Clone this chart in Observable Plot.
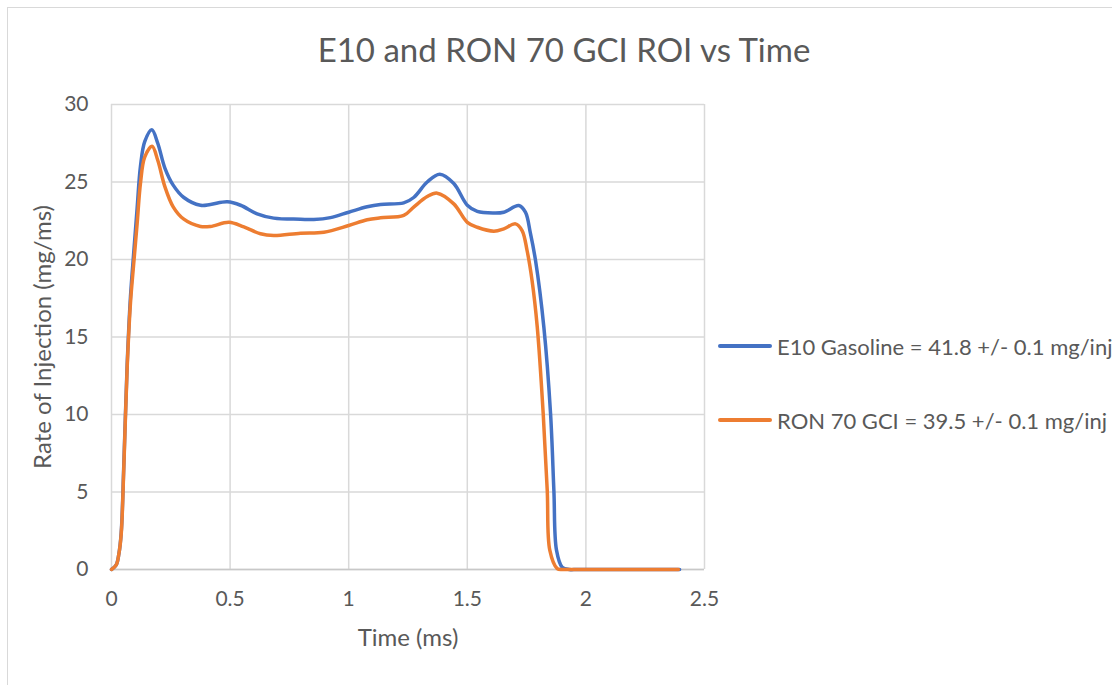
<!DOCTYPE html>
<html>
<head>
<meta charset="utf-8">
<script src="https://cdn.jsdelivr.net/npm/d3@7"></script>
<script src="https://cdn.jsdelivr.net/npm/@observablehq/plot@0.6"></script>
<style>
  body { margin: 0; background: #fff; font-family: Lato, sans-serif; }
  #chart { position: relative; width: 1112px; height: 685px; overflow: hidden; background: #fff; }
  #border { position: absolute; left: 7px; top: 7px; width: 1200px; height: 800px; border: 1px solid #d9d9d9; box-sizing: border-box; }
  #title { position: absolute; left: 0; width: 1128px; top: 33px; text-align: center; font-size: 33px; line-height: 33px; color: #595959; white-space: nowrap; }
  .leg { position: absolute; left: 718px; height: 30px; display: flex; align-items: center; font-size: 22px; color: #595959; white-space: nowrap; }
  .leg .sw { display: inline-block; width: 54px; height: 4px; border-radius: 2px; margin-right: 5px; }
  #plot { position: absolute; left: 0; top: 0; }
</style>
</head>
<body>
<div id="chart">
  <div id="border"></div>
  <div id="plot"></div>
  <div id="title"></div>
</div>
<script>
// ---- data ----
const chartTitle = "E10 and RON 70 GCI ROI vs Time";
const xLabel = "Time (ms)";
const yLabel = "Rate of Injection (mg/ms)";
const xTicks = [0, 0.5, 1, 1.5, 2, 2.5];
const xTickLabels = ["0", "0.5", "1", "1.5", "2", "2.5"];
const yTicks = [0, 5, 10, 15, 20, 25, 30];
const yTickLabels = ["0", "5", "10", "15", "20", "25", "30"];
const seriesNames = ["E10 Gasoline = 41.8 +/- 0.1 mg/inj", "RON 70 GCI = 39.5 +/- 0.1 mg/inj"];
const seriesColors = ["#4472C4", "#ED7D31"];

const e10Time = [0, 0.02, 0.031, 0.041, 0.052, 0.066, 0.08, 0.094, 0.108, 0.122, 0.14, 0.17, 0.195, 0.225, 0.26, 0.305, 0.375, 0.417, 0.488, 0.544, 0.614, 0.684, 0.797, 0.853, 0.923, 1.0, 1.078, 1.134, 1.232, 1.274, 1.331, 1.384, 1.443, 1.5, 1.542, 1.612, 1.654, 1.717, 1.745, 1.766, 1.788, 1.823, 1.851, 1.865, 1.876, 1.9, 1.93, 1.96, 2.0, 2.1, 2.3, 2.395];
const e10Rate = [0, 0.3, 1.0, 2.4, 6.8, 13.2, 17.6, 20.5, 23.3, 26.0, 27.6, 28.37, 27.5, 25.9, 24.8, 24.0, 23.5, 23.55, 23.72, 23.5, 22.95, 22.67, 22.6, 22.58, 22.7, 23.05, 23.4, 23.55, 23.65, 24.0, 25.0, 25.5, 24.9, 23.5, 23.1, 23.0, 23.05, 23.48, 23.05, 21.7, 19.9, 15.6, 10.05, 5.1, 1.25, 0.15, 0, 0, 0, 0, 0, 0];

const ronTime = [0, 0.02, 0.031, 0.041, 0.052, 0.066, 0.08, 0.094, 0.108, 0.122, 0.14, 0.171, 0.195, 0.225, 0.26, 0.305, 0.375, 0.417, 0.495, 0.558, 0.628, 0.684, 0.797, 0.895, 1.0, 1.078, 1.134, 1.232, 1.274, 1.331, 1.373, 1.443, 1.5, 1.542, 1.612, 1.654, 1.703, 1.731, 1.752, 1.773, 1.795, 1.820, 1.837, 1.848, 1.879, 1.9, 1.93, 1.97, 2.05, 2.2, 2.39];
const ronRate = [0, 0.3, 1.0, 2.3, 6.6, 13.0, 17.2, 19.8, 22.3, 24.9, 26.6, 27.3, 26.4, 24.7, 23.4, 22.6, 22.13, 22.13, 22.4, 22.1, 21.66, 21.55, 21.7, 21.76, 22.19, 22.56, 22.69, 22.84, 23.38, 24.06, 24.28, 23.59, 22.4, 22.08, 21.83, 21.98, 22.3, 21.87, 20.58, 18.65, 15.63, 10.05, 5.1, 1.23, 0.06, 0, 0, 0, 0, 0, 0];

// ---- build table ----
const rows = [
  ...e10Time.map((t, i) => ({series: seriesNames[0], t, v: e10Rate[i]})),
  ...ronTime.map((t, i) => ({series: seriesNames[1], t, v: ronRate[i]}))
];

const plot = Plot.plot({
  width: 1112,
  height: 685,
  marginLeft: 111,
  marginRight: 408,
  marginTop: 104,
  marginBottom: 116,
  style: { fontFamily: "Lato, sans-serif", color: "#595959", background: "transparent", overflow: "visible" },
  x: { domain: [0, 2.5] },
  y: { domain: [0, 30] },
  color: { domain: seriesNames, range: seriesColors },
  marks: [
    Plot.gridX(xTicks, { stroke: "#d9d9d9", strokeOpacity: 1, strokeWidth: 1.5 }),
    Plot.gridY(yTicks, { stroke: "#d9d9d9", strokeOpacity: 1, strokeWidth: 1.5 }),
    Plot.ruleY([0], { stroke: "#c8c8c8", strokeWidth: 1.5 }),
    Plot.axisX(xTicks, { tickSize: 0, tickPadding: 22, label: null, fontSize: 21, fill: "#595959", tickFormat: (d) => xTickLabels[xTicks.indexOf(d)] }),
    Plot.axisY(yTicks, { tickSize: 0, tickPadding: 23, label: null, fontSize: 21, fill: "#595959", tickFormat: (d) => yTickLabels[yTicks.indexOf(d)] }),
    Plot.line(rows, { x: "t", y: "v", z: "series", stroke: "series", strokeWidth: 3.5, curve: "catmull-rom" }),
    Plot.text([xLabel], { frameAnchor: "bottom", dy: 69, fontSize: 24, fill: "#595959", lineAnchor: "middle", textAnchor: "middle" }),
    Plot.text([yLabel], { frameAnchor: "left", dx: -68, rotate: -90, fontSize: 24, fill: "#595959", lineAnchor: "middle", textAnchor: "middle" })
  ]
});
document.getElementById("plot").appendChild(plot);
document.getElementById("title").textContent = chartTitle;

// legend
const legendY = [331, 405];
seriesNames.forEach((name, i) => {
  const d = document.createElement("div");
  d.className = "leg";
  d.style.top = legendY[i] + "px";
  const sw = document.createElement("span");
  sw.className = "sw";
  sw.style.background = seriesColors[i];
  const tx = document.createElement("span");
  tx.textContent = name;
  d.appendChild(sw);
  d.appendChild(tx);
  document.getElementById("chart").appendChild(d);
});
</script>
</body>
</html>
